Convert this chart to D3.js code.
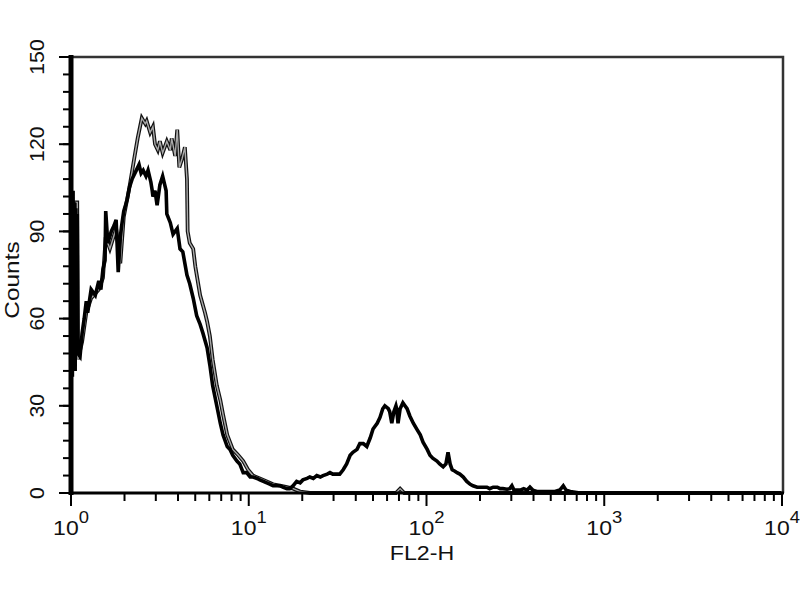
<!DOCTYPE html>
<html><head><meta charset="utf-8">
<script src="https://cdn.jsdelivr.net/npm/d3@7"></script>
<style>body{margin:0;background:#fff}svg{display:block}text{font-family:"Liberation Sans",Arial,sans-serif;fill:#111}</style>
</head><body>
<svg id="c" width="800" height="600"></svg>
<script>
// ---- data (channel 0..1023 over 4 log decades) ----
const blackChannel = [0,2,3,4,5,6,7,8,9,10,13,16,19,22,24,29,35,40,43,46,49,50,53,58,62,65,68,71,73,76,81,84,88,94,98,101,104,108,111,115,117,118,121,124,128,132,137,138,143,147,153,157,161,167,171,176,181,186,190,196,200,204,210,215,219,225,229,233,239,243,248,253,258,262,268,272,277,282,287,291,297,301,305,311,315,320,325,330,334,340,344,349,354,359,363,369,373,377,383,387,392,397,402,406,412,416,421,426,431,435,441,445,449,452,457,459,462,465,468,469,471,474,478,481,484,488,493,498,503,507,513,517,521,527,531,536,540,543,546,549,553,556,560,565,570,575,579,585,589,593,599,603,608,614,618,622,628,632,635,638,642,647,652,657,661,665,671,683,697,704,709,713,719,733,1023];
const blackCount = [107,40,104,45,100,42,98,50,96,48,47,55,60,66,62,70,68,73,70,77,80,97,86,90,92,94,76,88,92,97,101,105,108,111,113,110,111,109,111,107,104,102,104,99,106,109,104,96,93,89,91,84,83,75,72,67,61,58,55,50,44,37,30,24,20,16,15,13,11,10,7,7,5.5,5.5,5,4.5,4,3.5,3,2.5,2.5,2.5,2,1.5,1.5,2.5,4,3.5,4.5,5,5.5,5,6,5.5,6,6.5,7,6.5,6.5,6.5,8,10,13,14,15,17,17,16,19,22,24,26,29,30,29,28,24,28,30,29,24,29,31,30,29,26.5,24,22,20,17.5,15,13,12,11,10,9,10,14,10,8,7.5,7,6.5,5.5,4,3,2.5,2,2,2,2,1.5,2,2,1.5,1.5,1.3,1.5,2.5,1,1,1,1.5,1,2,1,0.5,0.5,0.5,1,2.5,1,0.5,0,0];
const grayChannel = [0,9,10,16,22,29,40,46,50,56,65,71,76,84,91,96,102,107,109,114,118,121,125,128,132,138,143,145,150,153,156,160,164,167,168,171,176,179,186,193,196,200,204,210,215,219,225,233,241,248,255,262,272,282,291,301,311,320,330,344,468,474,480,1023];
const grayCount = [100,100,46,52,62,67,70,74,88,84,91,79,95,105,115,122,129,127,128,124,126,120,118,121,117,121,118,122,116,125,112,115,119,108,90,86,84,78,68,62,59,54,46,37,32,27,20,15,13,11,8,6,5,4,3,2.5,2,1.5,0.5,0,0,1.5,0,0];
const yTickValues = [0,30,60,90,120,150];
const xTickExponents = [0,1,2,3,4];
const xLabel = "FL2-H";
const yLabel = "Counts";

const svg = d3.select("#c");
const L = 71, R = 782, T = 57, B = 493;
const x = d3.scaleLog().domain([1,10000]).range([L,R]);
const y = d3.scaleLinear().domain([0,150]).range([B,T]);
const chToVal = c => Math.pow(10, c*4/1024);

function series(ch, ct){
  const pts = ch.map((c,i)=>[chToVal(c), ct[i]]);
  return [[pts[0][0],0]].concat(pts);
}
const line = d3.line().x(d=>x(d[0])).y(d=>y(d[1]));

// frame top/right
svg.append("path").attr("d",`M${L},${T}H${R+1}V${B}`).attr("fill","none").attr("stroke","#333").attr("stroke-width",2.5);

// gray series (hollow look), then black
const g = series(grayChannel, grayCount);
svg.append("path").attr("d",line(g)).attr("fill","none").attr("stroke","#111").attr("stroke-width",3.8).attr("stroke-linejoin","miter");
svg.append("path").attr("d",line(g)).attr("fill","none").attr("stroke","#aaa").attr("stroke-width",1.4);
const b = series(blackChannel, blackCount);
svg.append("path").attr("d",line(b)).attr("fill","none").attr("stroke","#000").attr("stroke-width",3.6).attr("stroke-linejoin","miter");

// y axis
const yMinor = d3.range(0,151,6);
svg.selectAll(".ym").data(yMinor).enter().append("line")
  .attr("x1",L-8).attr("x2",L).attr("y1",d=>y(d)).attr("y2",d=>y(d)).attr("stroke","#000").attr("stroke-width",2);
svg.selectAll(".yM").data(yTickValues).enter().append("line")
  .attr("x1",L-12).attr("x2",L).attr("y1",d=>y(d)).attr("y2",d=>y(d)).attr("stroke","#000").attr("stroke-width",2);
svg.append("line").attr("x1",L).attr("x2",L).attr("y1",T-2).attr("y2",B+2).attr("stroke","#000").attr("stroke-width",5);
svg.selectAll(".yl").data(yTickValues).enter().append("text")
  .attr("transform",d=>`translate(44,${y(d)}) rotate(-90) scale(1.06,1)`).attr("text-anchor","middle")
  .attr("font-size",20).text(d=>d);
svg.append("text").attr("transform","translate(19,280) rotate(-90) scale(1.22,1)").attr("text-anchor","middle").attr("font-size",20).text(yLabel);

// x axis
svg.append("line").attr("x1",L-2).attr("x2",R+2).attr("y1",B).attr("y2",B).attr("stroke","#000").attr("stroke-width",3);
const xMinor = [];
xTickExponents.slice(0,-1).forEach(e=>{ for(let k=2;k<=9;k++) xMinor.push(k*Math.pow(10,e)); });
svg.selectAll(".xm").data(xMinor).enter().append("line")
  .attr("x1",d=>x(d)).attr("x2",d=>x(d)).attr("y1",B).attr("y2",B+8).attr("stroke","#000").attr("stroke-width",2);
svg.selectAll(".xM").data(xTickExponents).enter().append("line")
  .attr("x1",d=>x(Math.pow(10,d))).attr("x2",d=>x(Math.pow(10,d))).attr("y1",B).attr("y2",B+13).attr("stroke","#000").attr("stroke-width",2);
const xl = svg.selectAll(".xl").data(xTickExponents).enter().append("text")
  .attr("transform",d=>`translate(${x(Math.pow(10,d))},535) scale(1.15,1)`).attr("text-anchor","middle").attr("font-size",20);
xl.append("tspan").text("10");
xl.append("tspan").attr("dy",-12).attr("font-size",16).text(d=>d);
svg.append("text").attr("transform","translate(422,560) scale(1.16,1)").attr("text-anchor","middle").attr("font-size",20).text(xLabel);
</script>
</body></html>
